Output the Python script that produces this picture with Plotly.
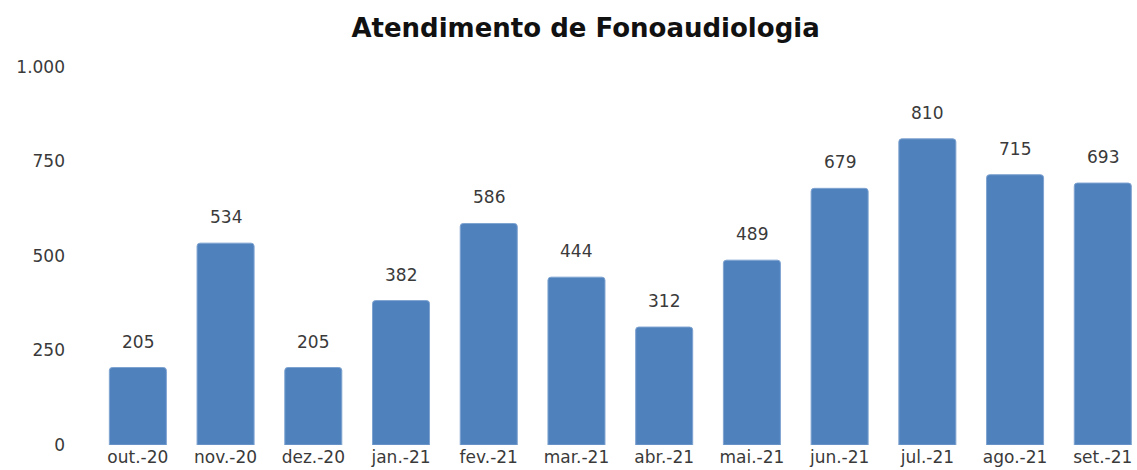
import plotly.graph_objects as go

# Dados
meses = ['out.-20', 'nov.-20', 'dez.-20', 'jan.-21', 'fev.-21', 'mar.-21',
         'abr.-21', 'mai.-21', 'jun.-21', 'jul.-21', 'ago.-21', 'set.-21']
atendimentos = [205, 534, 205, 382, 586, 444, 312, 489, 679, 810, 715, 693]
y_ticks = [0, 250, 500, 750, 1000]
y_tick_labels = ['0', '250', '500', '750', '1.000']

fig = go.Figure()

fig.add_trace(
    go.Bar(
        x=meses,
        y=atendimentos,
        marker=dict(color='#4F81BD', line=dict(color='#7FA3D0', width=1),
                    cornerradius=3),
        hoverinfo='x+y',
    )
)

# Rótulos de valor acima das barras
for m, v in zip(meses, atendimentos):
    fig.add_annotation(x=m, y=v, text=str(v), showarrow=False,
                       yanchor='middle', yshift=26,
                       font=dict(family='DejaVu Sans', size=17, color='#3a3a3a'))

fig.update_layout(
    title=dict(text='<b>Atendimento de Fonoaudiologia</b>', x=0.515, y=0.94,
               xanchor='center', yanchor='middle',
               font=dict(family='DejaVu Sans', size=26, color='#111111')),
    width=1137,
    height=470,
    bargap=0.35,
    showlegend=False,
    plot_bgcolor='white',
    paper_bgcolor='white',
    margin=dict(l=94, r=0, t=67, b=25),
    font=dict(family='DejaVu Sans', size=17, color='#3a3a3a'),
)

fig.update_xaxes(range=[-0.5, 11.39], showgrid=False, showline=False,
                 ticks='', tickfont=dict(size=17))
fig.update_yaxes(range=[0, 1000], tickvals=y_ticks, ticktext=y_tick_labels,
                 showgrid=False, zeroline=False, showline=False,
                 ticks='', ticklabelstandoff=28, tickfont=dict(size=17))

# remove a margem padrão do body para a figura ocupar a janela toda
fig.write_html("out.html", config={'displayModeBar': False},
               post_script="document.body.style.margin='0';")
